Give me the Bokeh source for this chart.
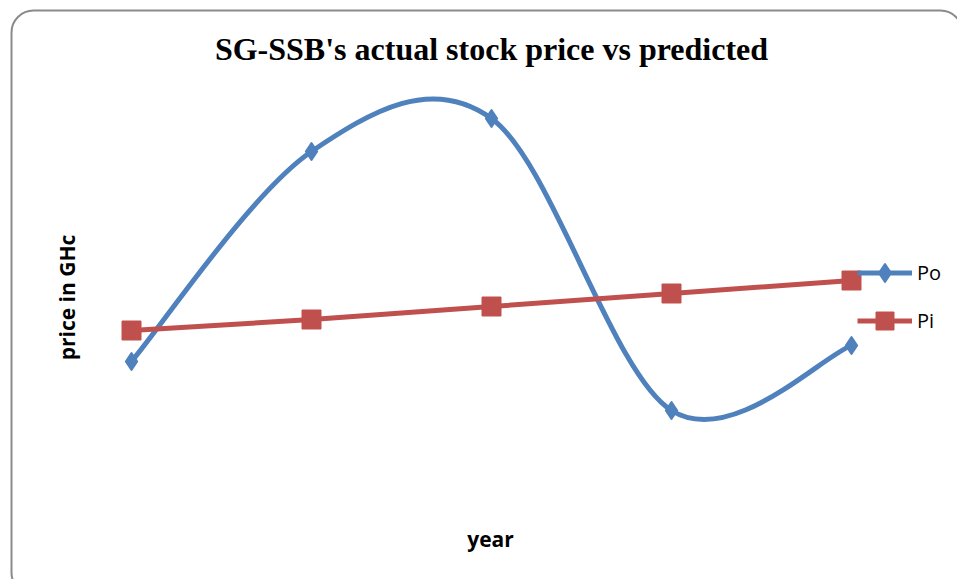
import math
from bokeh.plotting import figure
from bokeh.models import (ColumnDataSource, Label, Legend, LegendItem,
                          BoxAnnotation, Range1d)
from bokeh.embed import file_html
from bokeh.resources import INLINE

# ---- data (no axis values are shown) ----
periods = [0, 1, 2, 3, 4]
po_values = [1.39, 3.49, 3.82, 0.90, 1.55]   # actual price (Po)
pi_values = [1.70, 1.81, 1.94, 2.07, 2.20]   # predicted price (Pi)
series_names = ["Po", "Pi"]
title_text = "SG-SSB's actual stock price vs predicted"
x_label_text = "year"
y_label_text = "price in GHc"

BLUE = "#4F81BD"
RED = "#C0504D"

W, H = 957, 579
PX_X = 180.0   # pixels per period
PX_Y = 100.0   # pixels per unit


def fx(px):
    return (px - 131) / PX_X


def fy(py):
    return (500 - py) / PX_Y


p = figure(width=W, height=H, output_backend="svg", toolbar_location=None,
           x_axis_type=None, y_axis_type=None, min_border=0,
           x_range=Range1d(fx(0), fx(W)), y_range=Range1d(fy(H), fy(0)))
p.outline_line_color = None
p.background_fill_color = "white"
p.border_fill_color = "white"

# chart-area border with rounded corners
p.add_layout(BoxAnnotation(left=fx(11), right=fx(962), top=fy(10), bottom=fy(594),
                           fill_alpha=0, line_color="#8A8A8A", line_alpha=1.0,
                           line_width=2, border_radius=22, level="underlay"))


def smooth_segments(xs, ys):
    """Catmull-Rom style bezier control points (Excel 'smoothed line')."""
    n = len(xs)
    d = dict(x0=[], y0=[], x1=[], y1=[], cx0=[], cy0=[], cx1=[], cy1=[])
    for i in range(n - 1):
        xm, ym = (xs[i - 1], ys[i - 1]) if i > 0 else (xs[i], ys[i])
        xp, yp = (xs[i + 2], ys[i + 2]) if i + 2 < n else (xs[i + 1], ys[i + 1])
        d["x0"].append(xs[i]); d["y0"].append(ys[i])
        d["x1"].append(xs[i + 1]); d["y1"].append(ys[i + 1])
        d["cx0"].append(xs[i] + (xs[i + 1] - xm) / 6.0)
        d["cy0"].append(ys[i] + (ys[i + 1] - ym) / 6.0)
        d["cx1"].append(xs[i + 1] - (xp - xs[i]) / 6.0)
        d["cy1"].append(ys[i + 1] - (yp - ys[i]) / 6.0)
    return ColumnDataSource(d)


po_curve = p.bezier(x0="x0", y0="y0", x1="x1", y1="y1", cx0="cx0", cy0="cy0",
                    cx1="cx1", cy1="cy1", source=smooth_segments(periods, po_values),
                    line_color=BLUE, line_width=5)
pi_line = p.line(periods, pi_values, line_color=RED, line_width=5)

po_pts = p.scatter(periods, po_values, marker="diamond", size=17,
                   fill_color=BLUE, line_color=BLUE, line_width=2,
                   line_join="round")
pi_pts = p.scatter(periods, pi_values, marker="square", size=19,
                   fill_color=RED, line_color=RED)

legend = Legend(items=[LegendItem(label=series_names[0], renderers=[po_curve, po_pts]),
                       LegendItem(label=series_names[1], renderers=[pi_line, pi_pts])],
                location=(857, 236), glyph_width=55, glyph_height=45,
                label_height=45, spacing=3, padding=0, margin=0,
                label_standoff=5, border_line_color=None,
                background_fill_alpha=0,
                label_text_font="Open Sans", label_text_font_size="20px",
                label_text_color="black")
p.add_layout(legend)

p.add_layout(Label(x=fx(491), y=fy(48), text=title_text, text_align="center",
                   text_baseline="middle", text_font="Liberation Serif",
                   text_font_style="bold", text_font_size="32px", text_color="black"))
p.add_layout(Label(x=fx(66), y=fy(297), text=y_label_text, angle=math.pi / 2,
                   text_align="center", text_baseline="middle", text_font="Open Sans",
                   text_font_style="bold", text_font_size="21px", text_color="black"))
p.add_layout(Label(x=fx(490), y=fy(538), text=x_label_text, text_align="center",
                   text_baseline="middle", text_font="Open Sans",
                   text_font_style="bold", text_font_size="21px", text_color="black"))

open("out.html", "w").write(file_html(p, INLINE))
